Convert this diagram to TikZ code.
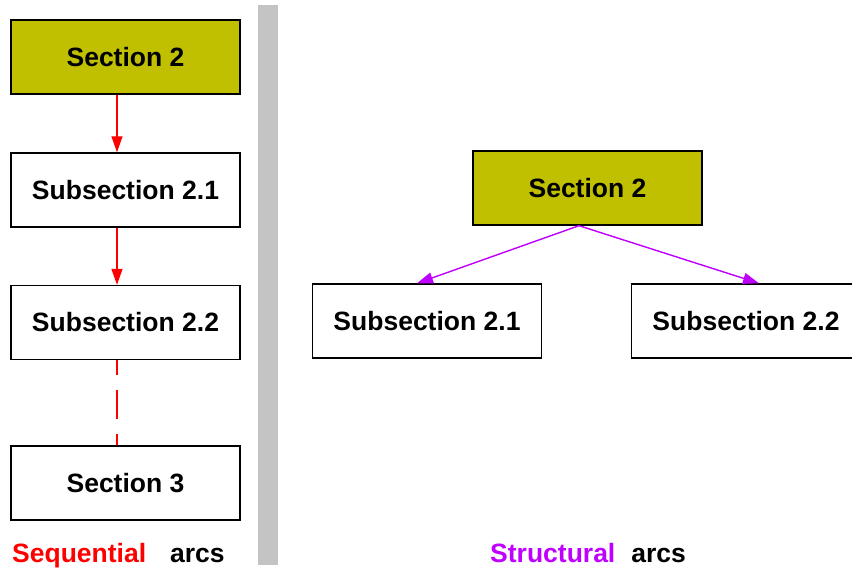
\documentclass[tikz,border=0pt]{standalone}
\usepackage{fontspec}
\setmainfont{Liberation Sans}
\usetikzlibrary{arrows.meta}
\definecolor{olivebox}{RGB}{192,192,0}
\definecolor{structcol}{RGB}{192,0,255}
\definecolor{barcol}{RGB}{196,196,196}
\newcommand{\boxfont}{\fontsize{26.5}{30}\selectfont\bfseries}
\tikzset{
  secbox/.style  = {draw=black, line width=1.4pt, fill=white,
                    minimum width=229pt, minimum height=74pt,
                    inner sep=0pt, font=\boxfont},
  headbox/.style = {secbox, fill=olivebox},
  seqarc/.style  = {red, line width=1.4pt, -{Triangle[length=16pt,width=11pt]}},
  structarc/.style = {structcol, line width=1.4pt, -{Triangle[length=16pt,width=11pt]}},
  legend/.style  = {anchor=base west, inner sep=0pt, font=\boxfont}
}

\begin{document}
\begin{tikzpicture}[x=1pt,y=-1pt]
	\useasboundingbox (0,0) rectangle (852,569);
	\clip (0,0) rectangle (852,569);
	% separator
	\fill[barcol] (258,5) rectangle (278,565);
	% sequential view
	\node[headbox] (lsec2)  at (125.5,57)    {Section 2};
	\node[secbox]  (lsub21) at (125.5,190)   {Subsection 2.1};
	\node[secbox]  (lsub22) at (125.5,322.5) {Subsection 2.2};
	\node[secbox]  (lsec3)  at (125.5,483)   {Section 3};
	\draw[seqarc] ([xshift=-8.5pt]lsec2.south) -- ([xshift=-8.5pt]lsub21.north);
	\draw[seqarc] ([xshift=-8.5pt]lsub21.south) -- ([xshift=-8.5pt]lsub22.north);
	\draw[red, line width=1.4pt, dash pattern=on 29pt off 15pt, dash phase=14pt]
		([xshift=-8.5pt]lsub22.south) -- ([xshift=-8.5pt]lsec3.north);
	% structural view
	\node[headbox] (rsec2)  at (587.5,188) {Section 2};
	\node[secbox]  (rsub21) at (427,321)   {Subsection 2.1};
	\node[secbox]  (rsub22) at (746,321)   {Subsection 2.2};
	\draw[structarc] ([xshift=-8.5pt]rsec2.south) -- ([xshift=-10pt]rsub21.north);
	\draw[structarc] ([xshift=-8.5pt]rsec2.south) -- ([xshift=13pt]rsub22.north);
	% legends
	\node[legend] (seqlabel)    at (12,562)  {\textcolor{red}{Sequential}\hspace{24pt}arcs};
	\node[legend] (structlabel) at (490,562) {\textcolor{structcol}{Structural}\hspace{16pt}arcs};
\end{tikzpicture}
\end{document}
